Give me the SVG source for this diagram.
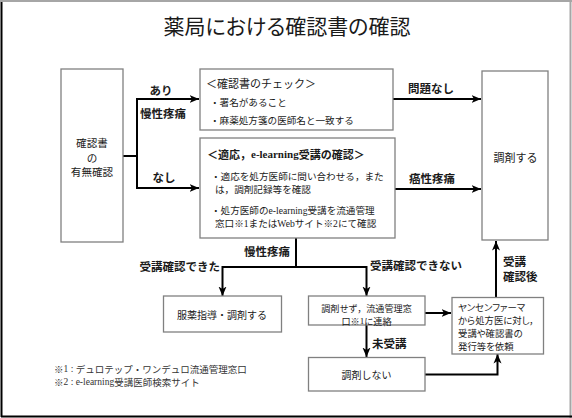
<svg xmlns="http://www.w3.org/2000/svg" width="572" height="418" viewBox="0 0 572 418">
<style>
text{font-family:"Noto Sans CJK JP","Noto Sans",sans-serif;fill:#1a1a1a;}
.p{font-feature-settings:"palt";}
.ser{font-family:"Liberation Serif","Noto Sans CJK JP",serif;}
.title{font-size:21px;}
.lbl{font-size:11.5px;font-weight:bold;}
.bx{font-size:9.6px;}
.jb{font-size:9.4px;}
.big{font-size:11px;}
.lb{font-size:10.6px;}
.mid{font-size:10px;}
.ct{font-size:9.1px;}
.hd{font-size:11px;font-weight:bold;}
.fn{font-size:9.5px;fill:#333;}
.box{fill:#fff;stroke:#808080;stroke-width:1.3;}
.conn{fill:none;stroke:#000;stroke-width:2;}
.arr{fill:none;stroke:#000;stroke-width:2;marker-end:url(#ah);}
</style>
<defs>
<marker id="ah" markerUnits="userSpaceOnUse" markerWidth="10" markerHeight="10" viewBox="0 0 10 10" refX="9.5" refY="5" orient="auto">
<path d="M0,1 L9.5,5 L0,9 L2.5,5 Z" fill="#000"/>
</marker>
</defs>
<rect x="0" y="0" width="572" height="418" fill="#fff"/>
<line x1="0" y1="1" x2="572" y2="1" stroke="#a6a6a6" stroke-width="2"/>
<line x1="570.5" y1="0" x2="570.5" y2="418" stroke="#a6a6a6" stroke-width="2"/>
<line x1="1.5" y1="2" x2="1.5" y2="417" stroke="#000" stroke-width="2"/>
<line x1="1" y1="416.5" x2="572" y2="416.5" stroke="#000" stroke-width="2"/>

<text class="title p" x="287" y="25" text-anchor="middle" dominant-baseline="central">薬局における確認書の確認</text>

<g id="connectors">
<path class="conn" d="M123,156 H137"/>
<path class="conn" d="M137,99 V188"/>
<path class="arr" d="M136,99 H199"/>
<path class="arr" d="M136,188 H199"/>
<path class="arr" d="M393,99 H481"/>
<path class="arr" d="M395,189 H481"/>
<path class="conn" d="M296,238 V267"/>
<path class="conn" d="M222.5,267 H366.5"/>
<path class="arr" d="M222.5,266 V296"/>
<path class="arr" d="M366.5,266 V296"/>
<path class="arr" d="M425,313 H451"/>
<path class="arr" d="M366.5,325 V357"/>
<path class="arr" d="M425,374.5 H497.5 V354"/>
<path class="arr" d="M496,297 V241"/>
</g>

<g id="edge-labels">
<text class="lbl" x="161" y="90" text-anchor="middle" dominant-baseline="central">あり</text>
<text class="lbl" x="163" y="112.5" text-anchor="middle" dominant-baseline="central">慢性疼痛</text>
<text class="lbl" x="164" y="176.5" text-anchor="middle" dominant-baseline="central">なし</text>
<text class="lbl" x="431" y="88" text-anchor="middle" dominant-baseline="central">問題なし</text>
<text class="lbl" x="432" y="178" text-anchor="middle" dominant-baseline="central">癌性疼痛</text>
<text class="lbl" x="267" y="250.5" text-anchor="middle" dominant-baseline="central">慢性疼痛</text>
<text class="lbl" x="220" y="266" text-anchor="end" dominant-baseline="central">受講確認できた</text>
<text class="lbl" x="370" y="265" dominant-baseline="central">受講確認できない</text>
<text class="lbl" x="372" y="342.5" dominant-baseline="central">未受講</text>
<text class="lbl" x="503" y="261" dominant-baseline="central">受講</text>
<text class="lbl" x="503" y="275.5" dominant-baseline="central">確認後</text>
</g>

<g id="node-confirm">
<rect class="box" x="61" y="69" width="62" height="173"/>
<text class="lb" x="92" y="142.3" text-anchor="middle" dominant-baseline="central">確認書</text>
<text class="lb" x="92" y="157" text-anchor="middle" dominant-baseline="central">の</text>
<text class="lb" x="92" y="171.7" text-anchor="middle" dominant-baseline="central">有無確認</text>
</g>

<g id="node-check">
<rect class="box" x="200" y="69" width="193" height="61"/>
<text class="big" x="206" y="82.5" dominant-baseline="central">＜確認書のチェック＞</text>
<text class="bx" x="210" y="102" dominant-baseline="central">・署名があること</text>
<text class="bx" x="210" y="120" dominant-baseline="central">・麻薬処方箋の医師名と一致する</text>
</g>

<g id="node-elearning">
<rect class="box" x="200" y="138" width="195" height="100"/>
<text class="hd" x="207" y="154" dominant-baseline="central">＜適応，<tspan class="ser">e-learning</tspan>受講の確認＞</text>
<text class="bx" x="211" y="176" dominant-baseline="central">・適応を処方医師に問い合わせる，また</text>
<text class="bx" x="215" y="189" dominant-baseline="central">は，調剤記録等を確認</text>
<text class="bx" x="211" y="210" dominant-baseline="central">・処方医師の<tspan class="ser">e-learning</tspan>受講を流通管理</text>
<text class="bx" x="215" y="222.5" dominant-baseline="central">窓口※<tspan class="ser">1</tspan>または<tspan class="ser">Web</tspan>サイト※<tspan class="ser">2</tspan>にて確認</text>
</g>

<g id="node-dispense">
<rect class="box" x="482" y="71" width="66" height="169"/>
<text class="big" x="515.5" y="156.5" text-anchor="middle" dominant-baseline="central">調剤する</text>
</g>

<g id="node-guidance">
<rect class="box" x="163.5" y="296" width="118" height="36"/>
<text class="mid" x="222" y="314.5" text-anchor="middle" dominant-baseline="central">服薬指導・調剤する</text>
</g>

<g id="node-contact">
<rect class="box" x="308.5" y="296" width="116.5" height="29"/>
<text class="ct" x="366.5" y="308.2" text-anchor="middle" dominant-baseline="central">調剤せず，流通管理窓</text>
<text class="ct" x="366.5" y="321.2" text-anchor="middle" dominant-baseline="central">口※<tspan class="ser">1</tspan>に連絡</text>
</g>

<g id="node-janssen">
<rect class="box" x="452" y="297.5" width="91.5" height="56.5"/>
<text class="jb p" x="458" y="306.5" dominant-baseline="central">ヤンセンファーマ</text>
<text class="jb p" x="458" y="319.5" dominant-baseline="central">から処方医に対し，</text>
<text class="jb p" x="458" y="332.5" dominant-baseline="central">受講や確認書の</text>
<text class="jb p" x="458" y="345.5" dominant-baseline="central">発行等を依頼</text>
</g>

<g id="node-nodispense">
<rect class="box" x="308.5" y="357.5" width="116.5" height="33.5"/>
<text class="mid" x="366.5" y="374.5" text-anchor="middle" dominant-baseline="central">調剤しない</text>
</g>

<g id="footnotes">
<text class="fn" x="54" y="369" dominant-baseline="central">※<tspan class="ser">1 : </tspan>デュロテップ・ワンデュロ流通管理窓口</text>
<text class="fn" x="54" y="381.5" dominant-baseline="central">※<tspan class="ser">2 : e-learning</tspan>受講医師検索サイト</text>
</g>
</svg>
